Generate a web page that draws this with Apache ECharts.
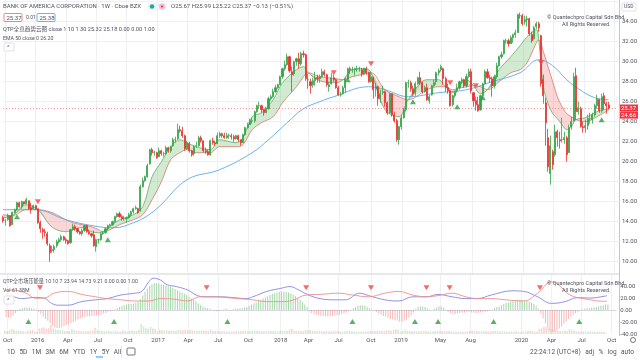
<!DOCTYPE html>
<html><head><meta charset="utf-8">
<script src="https://cdn.jsdelivr.net/npm/echarts@6/dist/echarts.min.js"></script>
<style>html,body{margin:0;padding:0;background:#fff;overflow:hidden}#c{width:640px;height:360px}</style>
</head><body><div id="c"></div>
<script>
// ---------- categories (weekly bars) ----------
const firstWeek = [2015, 8, 21];   // Monday 2015-09-21
const totalWeeks = 265;            // 261 bars + empty right margin

// ---------- tick labels ----------
const tickMonths = ['2015-10','2016-01','2016-04','2016-07','2016-10','2017-01','2017-04','2017-07','2017-10','2018-01','2018-04','2018-07','2018-10','2019-01','2019-05','2019-08','2020-01','2020-04','2020-07','2020-10'];
const tickTexts  = ['Oct','2016','Apr','Jul','Oct','2017','Apr','Jul','Oct','2018','Apr','Jul','Oct','2019','May','Aug','2020','Apr','Jul','Oct'];

// ---------- weekly candles [open, close, low, high] ----------
const ohlc2015 = [[14.4,14.1,13.9,14.6],[14.1,14.1,13.6,14.3],[14.2,14.65,14.1,14.8],[14.6,13.6,13.5,14.6],[13.7,14.95,13.7,15.0],[14.9,15.2,14.8,15.3],[15.2,15.9,15.1,16.0],[15.9,15.5,15.4,16.0],[15.5,16.0,15.3,16.1],[16.0,15.8,15.7,16.0],[15.8,16.2,15.8,16.4],[16.1,15.3,15.2,16.1],[15.4,15.2,14.8,15.9],[15.3,15.6,15.3,15.7],[15.6,15.3,15.2,15.7]];
const ohlc2016 = [[15.3,13.9,13.8,15.3],[13.9,13.3,12.9,14.1],[13.2,13.0,12.3,13.4],[13.0,12.9,12.5,13.3],[12.8,11.8,11.6,13.0],[11.6,10.9,10.0,11.8],[11.1,11.2,10.9,11.6],[11.2,11.5,10.9,11.7],[11.6,12.0,11.4,12.2],[12.0,12.2,11.8,12.4],[12.2,12.5,12.0,12.7],[12.5,12.2,12.1,12.6],[12.2,12.1,11.8,12.4],[12.1,11.8,11.7,12.2],[11.9,13.2,11.8,13.3],[13.2,13.5,13.1,13.8],[13.5,13.3,13.1,13.7],[13.3,13.0,12.8,13.4],[13.0,12.8,12.7,13.1],[12.8,13.1,12.6,13.3],[13.1,13.6,13.0,13.7],[13.6,13.0,12.9,13.7],[13.0,12.8,12.7,13.2],[12.8,12.6,12.4,12.9],[12.7,11.6,11.5,13.1],[11.5,12.2,11.0,12.3],[12.2,12.2,11.8,12.3],[12.2,12.8,12.1,12.9],[12.8,12.9,12.7,13.1],[12.9,13.3,12.8,13.4],[13.3,13.6,13.1,13.7],[13.6,13.7,13.5,13.8],[13.7,14.0,13.6,14.1],[14.0,14.5,13.9,14.6],[14.5,14.8,14.4,14.9],[14.8,14.5,14.4,15.0],[14.5,14.3,14.1,14.7],[14.3,14.3,14.1,14.6],[14.3,14.4,13.9,14.5],[14.4,14.7,14.3,14.9],[14.7,15.0,14.5,15.1],[15.0,15.3,14.8,15.4],[15.3,15.4,15.2,15.6],[15.3,14.9,14.8,15.4],[15.1,17.5,15.0,17.7],[17.5,18.1,17.4,18.4],[18.1,18.5,18.0,18.6],[18.5,19.6,18.4,19.8],[19.8,21.2,19.7,21.3],[21.2,20.9,20.6,21.4],[20.9,20.9,20.6,21.1],[20.9,20.4,20.3,21.0]];
const ohlc2017 = [[20.5,21.1,20.5,21.4],[21.1,20.8,20.6,21.2],[20.8,20.8,20.5,21.0],[20.8,21.4,20.7,21.6],[21.4,21.1,20.9,21.5],[21.1,21.5,20.9,21.6],[21.6,22.2,21.5,22.4],[22.2,22.2,21.9,22.5],[22.3,23.2,22.2,23.8],[23.2,23.1,22.9,23.6],[23.1,22.6,22.4,23.5],[22.6,21.3,21.1,22.7],[21.3,21.9,21.2,22.1],[21.8,21.1,20.9,22.0],[21.1,20.7,20.5,21.2],[20.8,21.5,20.6,21.6],[21.6,21.6,21.4,22.0],[21.6,22.4,21.5,22.6],[22.4,22.1,21.9,22.6],[22.1,21.1,20.9,22.1],[21.1,21.0,20.8,21.4],[21.0,20.7,20.6,21.2],[20.7,22.1,20.6,22.2],[22.1,21.9,21.7,22.4],[21.9,21.8,21.6,22.1],[21.8,22.6,21.8,22.9],[22.6,22.8,22.4,23.0],[22.8,22.6,22.4,22.9],[22.6,22.4,22.3,22.9],[22.4,22.6,22.3,22.9],[22.6,22.6,22.3,22.8],[22.6,22.5,22.2,22.8],[22.5,22.3,22.0,22.7],[22.3,22.6,22.2,22.7],[22.6,22.2,22.0,22.7],[22.2,21.9,21.6,22.2],[21.9,22.7,21.9,22.8],[22.7,23.4,22.6,23.5],[23.4,23.7,23.3,23.9],[23.7,24.1,23.7,24.3],[24.1,24.1,23.8,24.4],[24.1,25.0,23.9,25.1],[25.0,25.6,24.9,25.7],[25.6,25.6,25.3,26.0],[25.6,25.2,24.9,25.7],[25.2,24.9,24.6,25.3],[24.9,25.3,24.9,25.5],[25.3,26.3,25.2,26.5],[26.3,26.5,26.1,26.7],[26.5,27.0,26.4,27.3],[27.0,27.4,26.9,27.7],[27.4,27.7,27.3,27.8]];
const ohlc2018 = [[27.7,28.5,27.7,28.6],[28.5,29.3,28.3,29.4],[29.3,29.7,29.1,30.1],[29.7,30.5,29.6,30.8],[30.5,29.1,28.9,30.6],[29.0,28.7,27.0,29.5],[28.8,30.0,28.6,30.1],[30.0,30.3,29.6,30.4],[30.3,29.8,29.3,30.9],[29.8,30.8,29.6,31.0],[30.8,30.7,30.4,31.1],[30.7,28.3,28.1,30.8],[28.2,28.2,27.3,28.8],[28.0,27.6,26.8,28.3],[27.7,28.1,27.4,28.4],[28.1,28.4,27.6,29.0],[28.4,28.3,27.9,28.7],[28.3,28.5,27.9,28.7],[28.5,29.0,28.4,29.3],[29.0,28.7,28.5,29.2],[28.7,27.7,27.5,28.8],[27.5,27.7,27.0,28.0],[27.8,28.4,27.7,28.9],[28.4,28.2,28.0,28.7],[28.2,27.4,27.3,28.3],[27.4,26.7,26.6,27.6],[26.7,26.7,26.5,27.0],[26.8,27.4,26.7,27.6],[27.4,28.3,26.9,28.4],[28.3,29.3,28.2,29.4],[29.3,29.2,28.8,29.5],[29.2,29.2,28.9,29.5],[29.2,29.3,28.6,29.4],[29.3,29.3,29.0,29.6],[29.3,29.3,29.0,29.5],[29.2,28.8,28.5,29.4],[28.8,29.3,28.7,29.4],[29.3,28.9,28.7,29.5],[28.9,28.0,27.9,29.0],[28.0,28.5,27.9,29.0],[28.4,27.2,26.3,28.5],[27.3,27.5,26.5,27.9],[27.5,26.3,25.6,27.6],[26.3,26.8,25.9,27.2],[26.9,27.0,26.7,27.6],[27.0,25.9,25.5,27.1],[25.9,24.9,24.7,26.0],[24.9,26.8,24.8,26.9],[26.8,24.7,24.5,26.8],[24.7,24.1,23.9,25.0],[24.1,22.2,22.0,24.3],[22.2,23.5,21.7,23.6],[23.5,24.4,23.2,24.7]];
const ohlc2019 = [[24.4,25.2,24.3,25.4],[25.2,27.9,25.0,28.0],[27.9,27.9,27.4,28.2],[27.9,27.3,27.0,28.1],[27.3,26.8,26.6,27.6],[26.9,27.8,26.6,28.0],[27.8,28.4,27.7,28.5],[28.4,27.9,27.7,29.0],[27.9,27.0,26.8,28.0],[27.0,27.4,26.9,27.6],[27.4,26.2,26.1,27.8],[26.1,26.5,25.8,26.7],[26.7,27.6,26.6,27.7],[27.6,27.9,27.5,28.2],[28.0,28.9,27.7,29.0],[28.9,29.1,28.6,29.3],[29.2,29.5,29.0,29.7],[29.3,28.3,27.7,29.4],[28.3,27.4,27.0,28.5],[27.4,27.1,26.8,27.8],[27.1,25.6,25.5,27.2],[25.7,26.6,25.5,26.7],[26.6,27.0,26.4,27.1],[27.1,27.4,26.9,27.8],[27.4,28.0,27.2,28.1],[28.0,28.2,27.8,28.4],[28.2,27.6,27.4,28.3],[27.6,28.5,27.4,28.8],[28.5,29.0,28.4,29.3],[29.0,27.1,26.8,29.3],[26.9,26.1,25.5,26.8],[26.1,25.7,25.1,26.5],[25.7,25.1,25.0,26.5],[25.2,26.6,25.1,26.7],[26.6,27.8,26.3,27.9],[27.8,29.0,27.8,29.2],[29.0,28.4,28.3,29.3],[28.4,28.3,27.9,28.7],[28.3,27.6,26.5,28.5],[27.6,28.5,27.3,28.7],[28.5,29.6,28.3,29.9],[29.6,30.5,29.5,30.6],[30.5,30.7,30.3,31.0],[30.8,32.1,30.7,32.2],[32.1,32.1,31.8,32.3],[32.1,31.8,31.5,32.3],[31.8,32.4,31.8,32.6],[32.4,32.7,31.9,32.8],[32.7,32.9,32.4,33.2],[32.9,34.7,32.9,34.8],[34.6,34.6,34.3,34.9],[34.6,33.8,33.6,34.8]];
const ohlc2020 = [[34.0,34.2,33.7,34.6],[34.2,34.3,33.5,34.6],[34.3,32.8,32.6,34.4],[32.7,32.1,31.9,33.0],[32.3,33.4,32.2,33.6],[33.5,33.8,33.3,34.0],[33.8,33.4,33.0,34.0],[32.6,27.8,27.5,32.7],[28.2,26.6,25.8,28.7],[25.9,23.9,21.6,26.4],[22.4,19.5,19.0,23.3],[18.8,21.6,17.7,22.6],[21.0,19.7,19.2,21.2],[20.7,23.0,20.5,23.7],[23.0,22.4,21.5,23.2],[22.2,22.1,21.3,23.0],[22.2,22.2,21.9,24.4],[22.2,22.4,21.8,23.0],[22.4,20.7,20.0,22.6],[20.9,23.4,20.9,23.7],[23.5,24.0,23.2,24.5],[24.1,28.5,24.0,28.9],[28.6,25.0,24.2,29.4],[25.0,25.4,24.7,26.0],[25.3,23.5,23.4,25.5],[23.5,23.4,22.9,24.0],[23.4,23.6,22.9,24.2],[23.6,24.3,23.2,24.7],[24.3,24.3,23.8,24.9],[24.2,24.7,23.8,24.9],[24.7,25.6,24.5,25.8],[25.6,26.3,25.3,26.7],[26.2,25.1,24.9,26.3],[25.1,26.5,24.9,26.8],[26.6,25.8,25.2,26.9],[25.8,25.6,24.8,26.0],[25.67,25.37,25.22,25.99]];

// ---------- overlay lines: [week, value] ----------
const ema50Pts = [[0,15.2],[14,15.2],[27,14.2],[41,13.5],[48,13.4],[56,13.9],[62,14.6],[67,15.5],[79,18.2],[93,19.2],[107,20.9],[114,22.2],[122,23.9],[129,25.3],[136,26.0],[142,26.5],[157,27.5],[164,27.2],[174,26.5],[187,26.9],[199,27.2],[210,28.0],[222,28.9],[230,30.2],[236,29.6],[242,28.2],[247,27.3],[254,26.4],[260,26.2]];
const cloudWeek = [0,4,10,15,20,23,27,30,34,38,41,43,46,50,56,60,64,68,72,76,79,83,89,93,100,103,107,111,116,120,126,129,131,136,143,146,150,156,158,164,170,174,182,187,190,193,195,199,202,205,208,213,218,222,225,229,230,232,234,236,238,240,242,244,246,250,255,260];
const cloudFast = [14.4,14.6,15.7,15.2,13.7,13.2,13.0,13.2,13.4,13.0,12.9,13.0,13.5,14.2,14.7,15.5,18.5,20.0,21.5,22.2,21.9,21.5,21.2,22.2,21.9,22.4,24.5,24.9,26.2,27.9,29.2,29.5,28.9,28.1,27.9,28.2,29.2,29.3,28.9,25.2,24.5,26.2,28.2,28.2,27.5,26.9,27.3,28.2,27.6,26.8,27.2,29.2,30.5,31.6,32.5,33.2,32.2,27.5,25.8,24.8,24.3,23.7,23.2,23.5,24.2,24.4,25.0,25.32];
const cloudSlow = [14.7,14.6,15.2,15.2,15.0,14.7,14.2,13.9,13.7,13.5,13.2,13.0,13.2,13.7,14.2,14.7,16.2,18.0,20.2,20.9,21.2,20.9,20.9,21.5,21.5,21.7,23.2,23.9,24.5,25.9,27.5,28.5,28.9,28.5,28.3,28.2,28.5,28.8,28.9,27.2,26.5,26.2,27.2,27.5,27.5,27.2,27.3,27.5,27.6,27.5,27.2,28.0,28.9,29.2,29.9,31.9,32.2,31.0,29.5,28.0,26.5,25.5,24.8,24.5,24.2,24.0,24.5,25.18];

// ---------- signals [week, price] ----------
const sigSellMain = [[15,16.0],[142,28.9],[158,29.8],[192,27.9],[203,27.6],[231,29.9]];
const sigBuyMain  = [[6,14.5],[45,12.2],[148,28.2],[176,26.0],[195,25.5],[206,26.4],[257,24.2]];

// ---------- lower pane ----------
const hist2015 = [-12,-13,-12,-9,-5,-1,2,3,4,4,4,3,2,1,-3];
const hist2016 = [-7,-11,-15,-18,-22,-26,-29,-30,-30,-29,-27,-25,-24,-22,-20,-18,-16,-14,-13,-12,-11,-11,-10,-10,-9,-9,-8,-6,-5,-3,-2,-1,1,3,5,7,8,9,10,10,11,12,14,18,24,30,36,40,43,45,45,44];
const hist2017 = [43,42,41,40,39,37,35,33,31,29,27,25,22,19,17,14,11,8,6,4,3,2,1,-1,-2,-2,-1,1,2,1,-1,1,2,2,3,3,4,5,7,9,11,13,15,17,19,21,23,25,27,28,29,30];
const hist2018 = [31,31,30,29,28,26,23,20,17,13,9,5,-2,-5,-7,-8,-9,-10,-10,-11,-11,-10,-10,-9,-9,-8,-7,-6,-4,-2,1,3,5,7,8,8,7,5,3,1,-1,-3,-6,-8,-10,-11,-13,-15,-16,-17,-18,-19,-19];
const hist2019 = [-18,-16,-13,-9,-4,2,5,6,6,5,3,1,0,2,4,6,6,4,1,-3,-5,-7,-7,-6,-5,-4,-4,-3,-3,-4,-4,-5,-5,-4,-4,-3,-2,-1,1,3,5,6,8,10,12,13,14,15,16,17,17,17];
const hist2020 = [16,15,14,12,10,7,2,-6,-14,-22,-29,-34,-36,-36,-34,-31,-27,-23,-19,-15,-11,-8,-5,-3,-1,1,2,3,3,4,4,5,6,7,8,9,9.21];
const vol2015 = [420,380,450,600,520,400,420,380,330,260,400,450,520,330,260];
const vol2016 = [700,780,820,680,720,1150,660,560,500,470,430,380,390,360,620,470,400,360,310,330,340,360,390,430,780,520,390,410,360,390,430,310,330,360,300,290,430,360,310,390,430,390,360,500,1250,950,720,660,880,680,620,370];
const vol2017 = [560,480,460,450,420,400,430,380,520,480,440,560,470,500,430,410,400,420,380,440,400,370,560,420,380,360,350,340,330,310,320,300,310,330,360,380,420,370,360,350,380,400,420,380,360,350,330,380,400,390,370,280];
const vol2018 = [420,400,380,420,520,650,420,360,400,380,360,520,480,500,420,380,390,360,340,330,380,320,300,340,330,360,310,300,330,350,380,320,300,280,290,270,300,320,310,380,360,390,420,400,360,330,450,480,420,520,600,550,300];
const vol2019 = [380,520,420,380,330,350,340,320,360,340,380,330,320,300,380,360,330,360,340,330,380,300,290,280,300,260,280,300,330,370,420,380,390,320,340,360,330,300,320,360,380,330,340,310,300,290,310,300,280,330,290,230];
const vol2020 = [300,320,380,400,360,280,290,650,700,900,850,800,560,520,430,380,360,350,420,380,620,480,400,350,310,290,340,300,310,330,270,290,260,300,280,290,61];
const oscBluePts = [[0,19.5],[3,22],[7,19],[13,21],[17,19.5],[20,11],[23,8],[27,8],[33,14],[39,17],[44,19],[50,25],[56,28],[59,31],[62,47],[64,53],[67,50],[70,42],[74,39],[79,33],[83,24],[87,22],[93,22],[99,20.5],[104,19],[107,22],[113,31],[119,36],[123,39],[127,33],[131,25],[136,19],[142,17],[147,17],[153,28],[157,24],[164,17],[170,15],[176,22],[182,22],[187,26],[193,22],[199,19],[204,19],[210,25],[219,32],[224,31],[230,22],[236,11],[242,14],[247,20.5],[253,20],[259,23],[260,23.94]];
const oscRedPts = [[0,33],[4,33],[9,28],[13,19.5],[17,20],[21,28],[27,31],[33,26],[39,22],[44,19],[50,17],[56,15],[62,15],[67,19],[73,18],[79,15],[84,22],[90,22],[99,19.5],[107,17],[113,14],[119,14],[124,16],[130,25],[136,26],[144,28],[150,25],[157,22],[164,28],[170,31],[176,25],[182,22],[187,24],[193,28],[199,22],[204,19],[210,19],[216,17],[224,15],[230,28],[236,47],[239,42],[244,25],[250,19],[259,14.5],[260,14.73]];
const sigSellSub = [15,87,130,158,182,192,231];
const sigBuySub  = [10,47,96,150,177,187,211,248];

const lastClose = 25.37;
const secondPriceTag = 24.66;

// ---------- assemble ----------
const candles = [].concat(ohlc2015, ohlc2016, ohlc2017, ohlc2018, ohlc2019, ohlc2020);
const hist = [].concat(hist2015, hist2016, hist2017, hist2018, hist2019, hist2020);
const vol = [].concat(vol2015, vol2016, vol2017, vol2018, vol2019, vol2020);

const DAY = 864e5;
const t0 = Date.UTC(firstWeek[0], firstWeek[1], firstWeek[2]);
const cats = [];
for (let k = 0; k < totalWeeks; k++) cats.push(new Date(t0 + k * 7 * DAY).toISOString().slice(0, 10));
const tickMap = {};
tickMonths.forEach((m, j) => {
  const p = m.split('-').map(Number);
  const k = Math.floor((Date.UTC(p[0], p[1] - 1, 1) - t0) / (7 * DAY));
  tickMap[k] = tickTexts[j];
});
const isTick = (i) => tickMap[i] !== undefined;

const cloudBase = cloudWeek.map((w, j) => [w, Math.min(cloudFast[j], cloudSlow[j])]);
const cloudUp = cloudWeek.map((w, j) => [w, Math.max(cloudFast[j] - cloudSlow[j], 0)]);
const cloudDn = cloudWeek.map((w, j) => [w, Math.max(cloudSlow[j] - cloudFast[j], 0)]);

const UP = '#34a448', DOWN = '#ec2f2f', GRID = '#eef0f4', AX = '#50535e';
const FONT = 'Roboto, "Noto Sans CJK SC", sans-serif';

const chart = echarts.init(document.getElementById('c'), null, {renderer: 'canvas'});

function txt(x, y, text, rich, size) {
  return {type: 'text', left: x, top: y, silent: true, z: 100,
    style: {text: text, rich: rich || {}, fill: '#50535e', font: (size || 6) + 'px ' + FONT}};
}
const R = (c, s) => ({color: c, fontSize: s || 6, fontFamily: FONT});
const tagLabel = (v) => ({show: true, position: 'end', distance: 1, formatter: v.toFixed(2), backgroundColor: '#f23645', color: '#fff', fontSize: 6, padding: [1, 2, 0, 2]});

const option = {
  animation: false,
  backgroundColor: '#ffffff',
  textStyle: {fontFamily: FONT},
  grid: [
    {left: 3, right: 21, top: 1.7, height: 260},
    {left: 3, right: 21, top: 0, height: 273},
    {left: 3, right: 21, top: 274, height: 60}
  ],
  xAxis: [
    {gridIndex: 0, type: 'category', data: cats, boundaryGap: false, axisLine: {show: false}, axisTick: {show: false}, axisLabel: {show: false}, splitLine: {show: false}},
    {gridIndex: 1, type: 'category', data: cats, boundaryGap: false, axisLine: {show: false}, axisTick: {show: false}, axisLabel: {show: false},
      splitLine: {show: true, interval: isTick, lineStyle: {color: GRID, width: 1}}},
    {gridIndex: 2, type: 'category', data: cats, boundaryGap: false, axisLine: {show: true, lineStyle: {color: '#d6d9e0'}}, axisTick: {show: false},
      axisLabel: {show: true, interval: isTick, formatter: (v, i) => tickMap[i] || '', fontSize: 6, color: AX, margin: 3},
      splitLine: {show: true, interval: isTick, lineStyle: {color: GRID, width: 1}}}
  ],
  yAxis: [
    {gridIndex: 0, type: 'value', position: 'right', min: 10, max: 36, interval: 2, axisLine: {show: false}, axisTick: {show: false},
      axisLabel: {fontSize: 6, color: AX, margin: 4, formatter: v => v === 36 ? '' : v.toFixed(2)}, splitLine: {lineStyle: {color: GRID}}},
    {gridIndex: 1, type: 'value', show: false, min: 0, max: 1},
    {gridIndex: 2, type: 'value', position: 'right', min: -40, max: 60, interval: 20, axisLine: {show: false}, axisTick: {show: false},
      axisLabel: {fontSize: 6, color: AX, margin: 4, formatter: v => v === 60 ? '' : v.toFixed(2)}, splitLine: {show: false}},
    {gridIndex: 2, type: 'value', show: false, min: 0, max: 7500}
  ],
  series: [
    {type: 'line', name: 'cloudBase', xAxisIndex: 0, yAxisIndex: 0, data: cloudBase, stack: 'cloud', smooth: 0.35, symbol: 'none', lineStyle: {opacity: 0}, z: 2, silent: true},
    {type: 'line', name: 'cloudUp', xAxisIndex: 0, yAxisIndex: 0, data: cloudUp, stack: 'cloud', smooth: 0.35, symbol: 'none', lineStyle: {opacity: 0}, areaStyle: {color: 'rgba(110,190,110,0.45)'}, z: 2, silent: true},
    {type: 'line', name: 'cloudDn', xAxisIndex: 0, yAxisIndex: 0, data: cloudDn, stack: 'cloud', smooth: 0.35, symbol: 'none', lineStyle: {opacity: 0}, areaStyle: {color: 'rgba(240,100,100,0.38)'}, z: 2, silent: true},
    {type: 'line', name: 'fast', xAxisIndex: 0, yAxisIndex: 0, data: cloudWeek.map((w, j) => [w, cloudFast[j]]), smooth: 0.35, symbol: 'none', lineStyle: {color: '#5fae5f', width: 0.8}, z: 3},
    {type: 'line', name: 'slow', xAxisIndex: 0, yAxisIndex: 0, data: cloudWeek.map((w, j) => [w, cloudSlow[j]]), smooth: 0.35, symbol: 'none', lineStyle: {color: '#d77a6a', width: 0.8}, z: 3},
    {type: 'line', name: 'ema50', xAxisIndex: 0, yAxisIndex: 0, data: ema50Pts, smooth: 0.4, symbol: 'none', lineStyle: {color: '#5aaae8', width: 0.9}, z: 3},
    {type: 'candlestick', xAxisIndex: 0, yAxisIndex: 0, data: candles, barWidth: 1.6, z: 5,
      itemStyle: {color: UP, color0: DOWN, borderColor: UP, borderColor0: DOWN, borderWidth: 0.8},
      markLine: {silent: true, symbol: ['none', 'none'], animation: false,
        data: [
          {yAxis: lastClose, lineStyle: {color: '#f08080', type: [1, 2], width: 0.8}, label: tagLabel(lastClose)},
          {yAxis: secondPriceTag, lineStyle: {color: 'rgba(255,255,255,0)', width: 0}, label: tagLabel(secondPriceTag)}
        ]}},
    {type: 'scatter', xAxisIndex: 0, yAxisIndex: 0, data: sigSellMain, symbol: 'triangle', symbolRotate: 180, symbolSize: [6, 5], itemStyle: {color: '#f44642'}, z: 6},
    {type: 'scatter', xAxisIndex: 0, yAxisIndex: 0, data: sigBuyMain, symbol: 'triangle', symbolSize: [6, 5], itemStyle: {color: '#2f9e44'}, z: 6},
    // lower pane
    {type: 'bar', xAxisIndex: 2, yAxisIndex: 3, data: vol.map((v, i) => ({value: v, itemStyle: {color: candles[i][1] >= candles[i][0] ? 'rgba(76,175,80,0.25)' : 'rgba(239,83,80,0.25)'}})), barWidth: 1.6, z: 1},
    {type: 'bar', xAxisIndex: 2, yAxisIndex: 2, data: hist.map(v => ({value: v, itemStyle: {color: v >= 0 ? 'rgba(76,175,80,0.5)' : 'rgba(229,80,80,0.4)'}})), barWidth: 0.9, z: 2},
    {type: 'line', xAxisIndex: 2, yAxisIndex: 2, data: oscBluePts, smooth: 0.4, symbol: 'none', lineStyle: {color: '#8585e6', width: 0.9}, z: 3},
    {type: 'line', xAxisIndex: 2, yAxisIndex: 2, data: oscRedPts, smooth: 0.4, symbol: 'none', lineStyle: {color: '#ec8f8f', width: 0.9}, z: 3},
    {type: 'scatter', xAxisIndex: 2, yAxisIndex: 2, data: sigSellSub.map(w => [w, 37]), symbol: 'triangle', symbolRotate: 180, symbolSize: [6, 5], itemStyle: {color: '#f44642'}, z: 6},
    {type: 'scatter', xAxisIndex: 2, yAxisIndex: 2, data: sigBuySub.map(w => [w, -19]), symbol: 'triangle', symbolSize: [6, 5], itemStyle: {color: '#2f9e44'}, z: 6}
  ],
  graphic: [
    {type: 'line', shape: {x1: 619.5, y1: 0, x2: 619.5, y2: 336}, style: {stroke: '#c3c6ce', lineWidth: 1}, silent: true, z: 50},
    {type: 'line', shape: {x1: 0, y1: 274, x2: 619, y2: 274}, style: {stroke: '#dfe1e6', lineWidth: 1.5}, silent: true, z: 50},
    // header
    txt(3, 3, '{a|BANK OF AMERICA CORPORATION · 1W · Cboe BZX}', {a: R('#3c3f48')}),
    {type: 'rect', shape: {x: 147, y: 2.5, width: 20, height: 8, r: 4}, style: {fill: '#f0f3f7'}, silent: true, z: 100},
    {type: 'circle', shape: {cx: 152, cy: 6.5, r: 2.3}, style: {fill: '#26a69a'}, silent: true, z: 101},
    {type: 'circle', shape: {cx: 162, cy: 6.5, r: 3}, style: {fill: '#f8bbd0'}, silent: true, z: 101},
    {type: 'circle', shape: {cx: 162, cy: 6.5, r: 1}, style: {fill: '#e91e63'}, silent: true, z: 102},
    txt(171, 3, '{k|O}{r|25.67} {k|H}{r|25.99} {k|L}{r|25.22} {k|C}{r|25.37 −0.13 (−0.51%)}', {k: R('#50535e'), r: R('#ef5350')}),
    {type: 'rect', shape: {x: 4, y: 13.5, width: 18, height: 8, r: 1}, style: {fill: '#fff', stroke: '#ef5350', lineWidth: 0.7}, silent: true, z: 100},
    txt(6.5, 15, '{r|25.37}', {r: R('#ef5350')}),
    txt(26, 15, '{g|0.01}', {g: R('#8a8d96', 5)}),
    {type: 'rect', shape: {x: 37, y: 13.5, width: 18, height: 8, r: 1}, style: {fill: '#fff', stroke: '#2196f3', lineWidth: 0.7}, silent: true, z: 100},
    txt(39.5, 15, '{b|25.38}', {b: R('#2196f3')}),
    txt(3, 26.5, '{k|QTP全息趋势云图 close 1 10 1 30} {g|25.32} {r|25.18} {g|0.00} {r|0.00} {b|1.00}', {k: R('#50535e', 5.6), g: R('#4caf50', 5.6), r: R('#ef5350', 5.6), b: R('#2196f3', 5.6)}),
    txt(3, 35.5, '{k|EMA 50 close 0} {b|26.20}', {k: R('#50535e', 5.2), b: R('#2196f3', 5.2)}),
    {type: 'rect', shape: {x: 4, y: 43, width: 10, height: 8, r: 1}, style: {fill: '#fff', stroke: '#d1d4dc', lineWidth: 0.7}, silent: true, z: 100},
    txt(7, 44, '{k|^}', {k: R('#50535e')}),
    // watermark
    txt(547, 15, '{b|© Quantechpro Capital Sdn Bhd.}', {b: R('#2196f3', 5.5)}),
    txt(562, 22, '{b|All Rights Reserved.}', {b: R('#2196f3', 5.5)}),
    txt(547, 281, '{b|© Quantechpro Capital Sdn Bhd.}', {b: R('#2196f3', 5.5)}),
    txt(562, 288, '{b|All Rights Reserved.}', {b: R('#2196f3', 5.5)}),
    {type: 'rect', shape: {x: 622, y: 3, width: 14, height: 8, r: 1}, style: {fill: '#fff', stroke: '#d1d4dc', lineWidth: 0.7}, silent: true, z: 100},
    txt(624, 4.5, '{k|USD}', {k: R('#50535e', 5)}),
    // lower legend
    txt(3, 278.5, '{k|QTP全市场压能量 10 10 7} {p|23.94} {r|14.73} {g|9.21} {g|0.00} {r|0.00} {b|1.00}', {k: R('#50535e', 5.2), p: R('#6a6ae0', 5.2), r: R('#ef5350', 5.2), g: R('#4caf50', 5.2), b: R('#2196f3', 5.2)}),
    txt(3, 287.5, '{k|Vol} {r|61.38M}', {k: R('#50535e', 5.2), r: R('#ef5350', 5.2)}),
    {type: 'rect', shape: {x: 4, y: 296, width: 10, height: 8, r: 1}, style: {fill: '#fff', stroke: '#d1d4dc', lineWidth: 0.7}, silent: true, z: 100},
    txt(7, 297, '{k|^}', {k: R('#50535e')}),
    // toolbar
    txt(7, 349, '{k|1D}   {k|5D}   {k|1M}   {k|3M}   {k|6M}   {k|YTD}   {k|1Y}   {b|5Y}   {k|All}', {k: R('#50535e', 6.5), b: R('#2196f3', 6.5)}),
    {type: 'line', shape: {x1: 96, y1: 357, x2: 103, y2: 357}, style: {stroke: '#2196f3', lineWidth: 1}, silent: true},
    {type: 'line', shape: {x1: 121.5, y1: 346, x2: 121.5, y2: 358}, style: {stroke: '#e0e3eb', lineWidth: 1}, silent: true},
    {type: 'rect', shape: {x: 127, y: 348, width: 8, height: 7, r: 1}, style: {fill: 'none', stroke: '#50535e', lineWidth: 0.8}, silent: true},
    txt(530, 349, '{k|22:24:12 (UTC+8)}   {b|adj}   {k|%}   {k|log}   {b|auto}', {k: R('#50535e', 6.5), b: R('#2196f3', 6.5)}),
    {type: 'circle', shape: {cx: 633, cy: 340, r: 2.5}, style: {fill: 'none', stroke: '#50535e', lineWidth: 0.8}, silent: true}
  ]
};
chart.setOption(option);
</script>
</body></html>
